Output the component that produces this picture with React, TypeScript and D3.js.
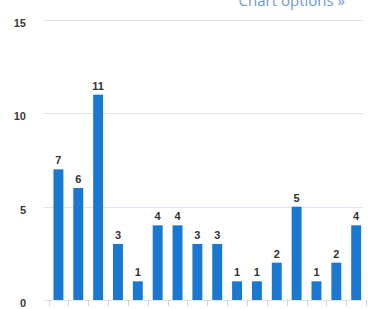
import React, { useRef, useEffect } from "react";
import * as d3 from "d3";

// one bar per category, no x labels are shown in the chart
const categories = ["1", "2", "3", "4", "5", "6", "7", "8", "9", "10", "11", "12", "13", "14", "15", "16"];
const counts = [7, 6, 11, 3, 1, 4, 4, 3, 3, 1, 1, 2, 5, 1, 2, 4];
const yTicks = [0, 5, 10, 15];

const App = () => {
    const ref = useRef<SVGSVGElement>(null);

    useEffect(() => {
        const svg = d3.select(ref.current);
        svg.selectAll("*").remove();

        const width = 368;
        const height = 309;
        const margin = { top: 20, right: 2, bottom: 9, left: 48.5 };

        svg
            .attr("width", width)
            .attr("height", height)
            .style("background", "#fff");

        const x = d3
            .scaleBand()
            .domain(categories)
            .range([margin.left, margin.left + 19.85 * categories.length])
            .paddingInner(0.5)
            .paddingOuter(0.25);

        const y = d3
            .scaleLinear()
            .domain([0, 15])
            .range([height - margin.bottom, margin.top]);

        // grid lines
        svg.append("g")
            .selectAll("line")
            .data(yTicks)
            .enter()
            .append("line")
            .attr("x1", 43)
            .attr("x2", 363)
            .attr("y1", d => Math.round(y(d)) + 0.5)
            .attr("y2", d => Math.round(y(d)) + 0.5)
            .attr("stroke", "#dfe5ef")
            .attr("stroke-width", 1);

        // y labels
        svg.append("g")
            .selectAll("text")
            .data(yTicks)
            .enter()
            .append("text")
            .attr("x", 26)
            .attr("y", d => y(d) + 7)
            .attr("text-anchor", "end")
            .style("font-family", "Arial, 'Liberation Sans', sans-serif")
            .style("font-size", "11px")
            .style("font-weight", "bold")
            .attr("fill", "#3a3a3a")
            .text(d => d);

        // tick marks at band edges
        const edges = categories.map(c => x(c)! - x.step() * x.paddingInner() / 2);
        edges.push(x.range()[1] - x.step() * 0.0);
        svg.append("g")
            .selectAll("line")
            .data(edges)
            .enter()
            .append("line")
            .attr("x1", d => Math.round(d) + 0.5)
            .attr("x2", d => Math.round(d) + 0.5)
            .attr("y1", y(0))
            .attr("y2", y(0) + 6)
            .attr("stroke", "#cfd6e0")
            .attr("stroke-width", 1);

        // bars
        svg.append("g")
            .selectAll("rect")
            .data(counts)
            .enter()
            .append("rect")
            .attr("x", (d, i) => x(categories[i])!)
            .attr("y", d => y(d))
            .attr("width", x.bandwidth())
            .attr("height", d => y(0) - y(d))
            .attr("fill", "#1b78d0");

        // value labels
        svg.append("g")
            .selectAll("text")
            .data(counts)
            .enter()
            .append("text")
            .attr("x", (d, i) => x(categories[i])! + x.bandwidth() / 2)
            .attr("y", d => y(d) - 5)
            .attr("text-anchor", "middle")
            .style("font-family", "Arial, 'Liberation Sans', sans-serif")
            .style("font-size", "11px")
            .style("font-weight", "bold")
            .attr("fill", "#333")
            .text(d => d);

        svg.append("text")
            .attr("x", 345)
            .attr("y", 6)
            .attr("text-anchor", "end")
            .style("font-family", "'Open Sans', sans-serif")
            .style("font-size", "15px")
            .attr("fill", "#6f9bd1")
            .text("Chart options »");
    }, []);

    return (
        <svg ref={ref} style={{ position: "absolute", left: 0, top: 0 }}></svg>
    );
};

export default App;
